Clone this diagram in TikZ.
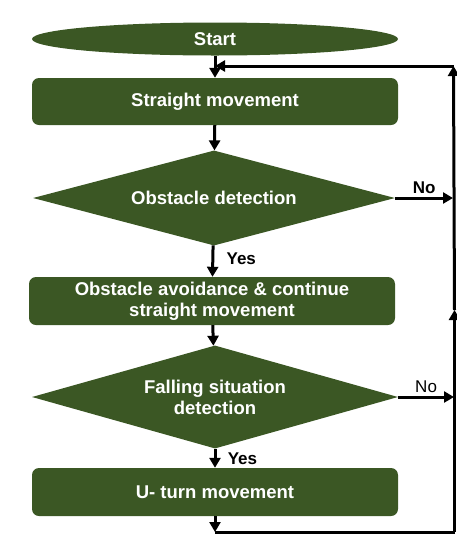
\documentclass[tikz,border=0pt]{standalone}
\usepackage{fontspec}
\setmainfont{Liberation Sans}
\usetikzlibrary{shapes.geometric,arrows.meta}
\definecolor{dgreen}{RGB}{59,87,36}
\begin{document}
\begin{tikzpicture}[x=1pt,y=-1pt,
  txt/.style={text=white,font=\fontsize{18.5}{21}\selectfont\bfseries,align=center},
  box/.style={draw=none,fill=dgreen,rounded corners=7pt,minimum width=366pt,inner sep=0pt,txt},
  dia/.style={diamond,fill=dgreen,inner sep=0pt,shape aspect=3.8,txt},
  arr/.style={line width=3pt,-{Triangle[width=11pt,length=10pt]}},
  ln/.style={line width=3pt},
  labb/.style={font=\fontsize{17}{19}\selectfont\bfseries},
  lab/.style={font=\fontsize{17}{19}\selectfont}
]
\useasboundingbox (0,0) rectangle (457,539);
\node[ellipse,fill=dgreen,minimum width=366pt,minimum height=33pt,inner sep=0pt,txt] (start) at (215,39) {Start};
\node[box,minimum height=47pt] (sm) at (215,101.5) {Straight movement};
\node[dia,minimum width=362pt,minimum height=95pt] (od) at (214,198) {Obstacle detection};
\node[box,minimum height=48pt] (oa) at (212,301) {Obstacle avoidance \& continue\\straight movement};
\node[dia,minimum width=366pt,minimum height=103pt] (fd) at (215,397) {Falling situation\\detection};
\node[box,minimum height=48pt] (ut) at (215,492) {U- turn movement};
\coordinate (b1) at (215,532);
\coordinate (b2) at (454.5,532);
\coordinate (m) at (454.5,310);
\coordinate (t1) at (453.5,66);
\coordinate (t2) at (215,66);
\coordinate (n1) at (453,198);
\coordinate (n2) at (454,397);
\draw[arr] (start) -- (sm);
\draw[arr] (sm) -- (od);
\draw[arr] (od) -- node[right,labb,xshift=9pt,yshift=2pt]{Yes} (oa);
\draw[arr] (oa) -- (fd);
\draw[arr] (fd) -- node[right,labb,xshift=8pt]{Yes} (ut);
\draw[arr] (ut) -- (b1);
\draw[ln] (b1) -- (b2);
\draw[arr] (b2) -- (m);
\draw[arr] (m) -- (t1);
\draw[arr] (t1) -- (t2);
\draw[arr] (od.east) -- node[above,labb]{No} (n1);
\draw[arr] (fd.east) -- node[above,lab]{No} (n2);
\end{tikzpicture}
\end{document}
